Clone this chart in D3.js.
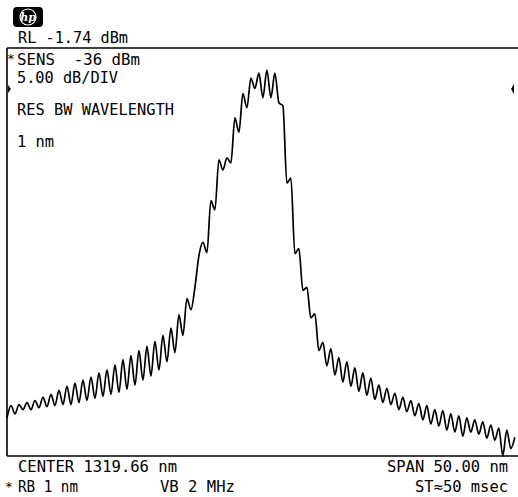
<!DOCTYPE html>
<html><head><meta charset="utf-8">
<script src="https://cdn.jsdelivr.net/npm/d3@7/dist/d3.min.js"></script>
<style>
html,body{margin:0;padding:0;background:#fff;}
svg{display:block;}
text{font-family:"DejaVu Sans Mono","Liberation Mono",monospace;font-size:15px;fill:#000;white-space:pre;}
</style></head>
<body>
<script>
// ---- data ----
const refLevelDbm = -1.74;
const dbPerDiv = 5;
const divisions = 8;
const centerNm = 1319.66;
const spanNm = 50.00;
const startNm = 1294.66;
const stepNm = 0.392;
// trace samples (dBm), one per stepNm starting at startNm
const traceDbm = [
 -38.0,-36.8,-37.6,-36.7,-37.2,-36.5,-37.2,-36.3,-37.0,-36.0,
 -36.9,-35.7,-36.8,-35.3,-36.7,-34.9,-36.7,-34.6,-36.5,-34.3,
 -36.3,-34.0,-36.1,-33.6,-35.9,-33.3,-35.7,-32.8,-35.5,-32.3,
 -35.2,-31.9,-34.8,-31.4,-34.3,-31.0,-33.9,-30.5,-33.3,-29.9,
 -32.5,-29.2,-31.6,-27.9,-29.9,-26.3,-27.4,-25.2,-22.1,-20.8,
 -21.8,-16.7,-17.6,-12.7,-13.7,-12.5,-13.0,-8.6,-10.0,-6.2,
 -7.6,-4.7,-5.7,-4.2,-6.6,-3.9,-6.6,-4.2,-7.1,-7.4,
 -15.0,-14.5,-21.9,-21.4,-25.5,-25.2,-28.2,-27.8,-31.4,-30.6,
 -32.9,-31.2,-33.8,-32.1,-34.5,-32.5,-34.9,-33.1,-35.4,-33.6,
 -35.8,-34.1,-36.2,-34.8,-36.5,-35.1,-36.7,-35.6,-37.2,-36.0,
 -37.4,-36.3,-37.8,-36.6,-38.2,-36.8,-38.6,-37.2,-38.8,-37.3,
 -39.2,-37.6,-39.4,-37.8,-39.8,-38.0,-39.4,-38.2,-39.6,-38.4,
 -40.0,-38.7,-40.2,-39.0,-41.7,-39.2,-41.0,-39.9
];
const topLabels = ["RL -1.74 dBm"];
const infoLabels = ["SENS  -36 dBm", "5.00 dB/DIV", "RES BW WAVELENGTH", "1 nm"];
const bottomLabels = ["CENTER 1319.66 nm", "SPAN 50.00 nm", "RB 1 nm", "VB 2 MHz", "ST\u224850 msec"];

// ---- drawing ----
const W = 518, H = 497;
const svg = d3.select("body").append("svg").attr("width", W).attr("height", H);

const x = d3.scaleLinear().domain([centerNm - spanNm/2, centerNm + spanNm/2]).range([7, 517]);
const y = d3.scaleLinear().domain([refLevelDbm - dbPerDiv*divisions, refLevelDbm]).range([456, 48]);

// frame
const [x0] = x.range(); const [yb, yt] = y.range();
svg.append("line").attr("x1", x0).attr("x2", W).attr("y1", yt).attr("y2", yt).attr("stroke","#000").attr("stroke-width",1.6);
svg.append("line").attr("x1", x0).attr("x2", W).attr("y1", yb).attr("y2", yb).attr("stroke","#000").attr("stroke-width",1.6);
svg.append("line").attr("x1", x0).attr("x2", x0).attr("y1", yt).attr("y2", yb).attr("stroke","#000").attr("stroke-width",1.6);

// trace
const pts = traceDbm.map((v,i)=>[startNm + i*stepNm, v]);
svg.append("path").datum(pts)
  .attr("d", d3.line().curve(d3.curveMonotoneX).x(d=>x(d[0])).y(d=>y(Math.max(d[1], y.domain()[0]))))
  .attr("fill","none").attr("stroke","#000").attr("stroke-width",1.7).attr("stroke-linejoin","round");

// markers
svg.append("path").attr("d","M8,85 L11,89 L8,93 Z").attr("fill","#000");
svg.append("path").attr("d","M514,84 L511,89 L514,94 Z").attr("fill","#000");

// hp logo
svg.append("rect").attr("x",13).attr("y",7).attr("width",30).attr("height",20).attr("rx",4).attr("fill","#000");
svg.append("circle").attr("cx",28).attr("cy",17).attr("r",8).attr("fill","none").attr("stroke","#fff").attr("stroke-width",1.2);
svg.append("text").attr("x",28).attr("y",21).attr("text-anchor","middle")
  .style("font-family","DejaVu Serif").style("font-style","italic").style("font-weight","bold").style("font-size","11px").style("fill","#fff").text("hp");

function label(t, xx, yy, len){
  const s = svg.append("text").attr("x",xx).attr("y",yy).attr("xml:space","preserve").text(t);
  if(len) s.attr("textLength",len).attr("lengthAdjust","spacingAndGlyphs");
  return s;
}
function star(xx, yy){
  svg.append("text").attr("x",xx).attr("y",yy).style("font-size","13px").text("*");
}
label(topLabels[0], 18, 43, 110);
star(7, 63);
label(infoLabels[0], 17, 65, 123);
label(infoLabels[1], 17, 83, 101);
label(infoLabels[2], 17, 115, 157);
label(infoLabels[3], 17, 147, 37);
label(bottomLabels[0], 18, 472, 159);
label(bottomLabels[1], 387, 472, 121);
star(5, 491);
label(bottomLabels[2], 18, 492, 60);
label(bottomLabels[3], 160, 492, 75);
label(bottomLabels[4], 415, 492, 93);
</script>
</body></html>
